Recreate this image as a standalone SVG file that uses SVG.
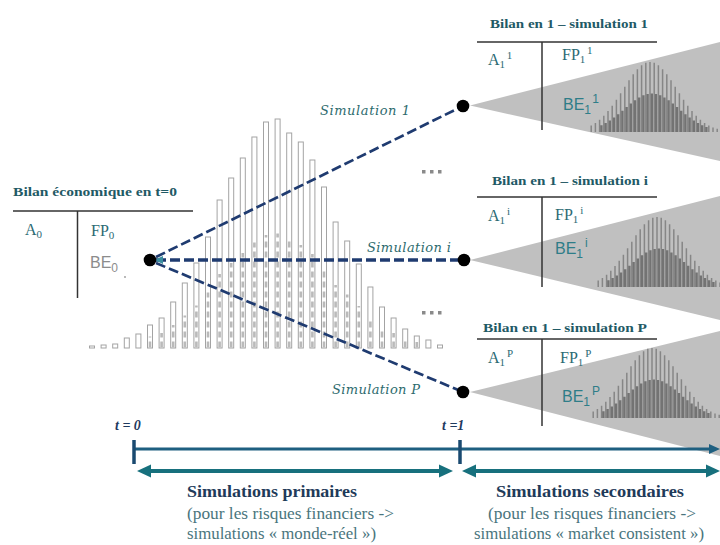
<svg xmlns="http://www.w3.org/2000/svg" xmlns:xlink="http://www.w3.org/1999/xlink" width="720" height="545" viewBox="0 0 720 545">
<style>
.ttl{font-family:"Liberation Serif","Times New Roman",serif;font-weight:bold;font-size:13.5px;fill:#1f5a66}
.bs{font-family:"Liberation Serif","Times New Roman",serif;font-size:16px;fill:#2b6a74}
.be{font-family:"Liberation Sans",Arial,sans-serif;font-size:16px;fill:#2e7d88}
.be0{font-family:"Liberation Sans",Arial,sans-serif;font-size:16px;fill:#8c8c8c}
.sim{font-family:"DejaVu Serif",serif;font-style:italic;font-size:13px;fill:#2d6b6e}
.dots{fill:#8a8a8a}
.tl{font-family:"Liberation Serif","Times New Roman",serif;font-style:italic;font-weight:bold;font-size:14px;fill:#1f3a5f}
.bh{font-family:"Liberation Serif","Times New Roman",serif;font-weight:bold;font-size:17px;fill:#1f3b5a}
.bt{font-family:"Liberation Serif","Times New Roman",serif;font-size:17px;fill:#4a757d}
.rule{stroke:#333;stroke-width:1.5;fill:none}
.tri{fill:#c0c0c0}
.bar{fill:#fff;stroke:#a3a3a3;stroke-width:1}
.inner{stroke:#bababa;stroke-width:2.6;stroke-dasharray:6 4;fill:none}
.dash{stroke:#1f3b70;stroke-width:2.7;stroke-dasharray:10 4;fill:none}
.dot{fill:#000}
.hthin{stroke:#868686;stroke-width:1.5;fill:none}
.hthick{stroke:#737373;stroke-width:2.4;fill:none}
</style>
<defs>
<g id="hist">
<path class="hthin" d="M-58.8 0v-6.5M-54.6 0v-9M-50.4 0v-12.3M-46.2 0v-16.2M-42 0v-20.9M-37.8 0v-26.3M-33.6 0v-32.3M-29.4 0v-38.7M-25.2 0v-45.3M-21 0v-51.7M-16.8 0v-57.7M-12.6 0v-62.8M-8.4 0v-66.7M-4.2 0v-69.2M0 0v-70M4.2 0v-69.2M8.4 0v-66.7M12.6 0v-62.8M16.8 0v-57.7M21 0v-51.7M25.2 0v-45.3M29.4 0v-38.7M33.6 0v-32.3M37.8 0v-26.3M42 0v-20.9M46.2 0v-16.2M50.4 0v-12.3M54.6 0v-9M58.8 0v-6.5M63 0v-4.6M67.2 0v-3.2"/>
<path class="hthick" d="M-48.6 0v-6.8M-44.4 0v-8.9M-40.2 0v-11.5M-36 0v-14.5M-31.8 0v-17.8M-27.6 0v-21.3M-23.4 0v-24.9M-19.2 0v-28.4M-15 0v-31.7M-10.8 0v-34.5M-6.6 0v-36.7M-2.4 0v-38.1M1.8 0v-38.5M6 0v-38.1M10.2 0v-36.7M14.4 0v-34.5M18.6 0v-31.7M22.8 0v-28.4M27 0v-24.9M31.2 0v-21.3M35.4 0v-17.8M39.6 0v-14.5M43.8 0v-11.5M48 0v-8.9M52.2 0v-6.8M56.4 0v-5"/>
</g>
</defs>
<rect width="720" height="545" fill="#fff"/>

<g id="primary-histogram">
<rect class="bar" x="89.5" y="346" width="5" height="2"/>
<rect class="bar" x="101.1" y="345" width="5" height="3"/>
<rect class="bar" x="112.7" y="344" width="5" height="4"/>
<rect class="bar" x="124.3" y="338" width="5" height="10"/>
<rect class="bar" x="135.9" y="334" width="5" height="14"/>
<rect class="bar" x="147.5" y="325" width="5" height="23"/>
<rect class="bar" x="159.1" y="318" width="5" height="30"/>
<rect class="bar" x="170.7" y="302" width="5" height="46"/>
<rect class="bar" x="182.3" y="283" width="5" height="65"/>
<rect class="bar" x="193.9" y="263" width="5" height="85"/>
<rect class="bar" x="205.5" y="237" width="5" height="111"/>
<rect class="bar" x="217.1" y="200" width="5" height="148"/>
<rect class="bar" x="228.7" y="178" width="5" height="170"/>
<rect class="bar" x="240.3" y="158" width="5" height="190"/>
<rect class="bar" x="251.9" y="137" width="5" height="211"/>
<rect class="bar" x="263.5" y="122" width="5" height="226"/>
<rect class="bar" x="275.1" y="119" width="5" height="229"/>
<rect class="bar" x="286.7" y="133" width="5" height="215"/>
<rect class="bar" x="298.3" y="142" width="5" height="206"/>
<rect class="bar" x="309.9" y="160" width="5" height="188"/>
<rect class="bar" x="321.5" y="187" width="5" height="161"/>
<rect class="bar" x="333.1" y="222" width="5" height="126"/>
<rect class="bar" x="344.7" y="241" width="5" height="107"/>
<rect class="bar" x="356.3" y="264" width="5" height="84"/>
<rect class="bar" x="367.9" y="287" width="5" height="61"/>
<rect class="bar" x="379.5" y="307" width="5" height="41"/>
<rect class="bar" x="391.1" y="318" width="5" height="30"/>
<rect class="bar" x="402.7" y="329" width="5" height="19"/>
<rect class="bar" x="414.3" y="336" width="5" height="12"/>
<rect class="bar" x="425.9" y="340" width="5" height="8"/>
<rect class="bar" x="437.5" y="345" width="5" height="3"/>
<path class="inner" d="M150 347.5V336.5M161.6 347.5V333M173.2 347.5V325M184.8 347.5V315.5M196.4 347.5V305.5M208 347.5V292.5M219.6 347.5V274M231.2 347.5V263M242.8 347.5V253M254.4 347.5V242.5M266 347.5V235M277.6 347.5V233.5M289.2 347.5V240.5M300.8 347.5V245M312.4 347.5V254M324 347.5V267.5M335.6 347.5V285M347.2 347.5V294.5M358.8 347.5V306M370.4 347.5V317.5M382 347.5V327.5M393.6 347.5V333M405.2 347.5V338.5M416.8 347.5V342"/>
</g>

<g id="balance-t0">
<text class="ttl" x="13" y="196" textLength="164" lengthAdjust="spacingAndGlyphs">Bilan économique en t=0</text>
<line class="rule" x1="13" y1="211" x2="193" y2="211"/>
<line class="rule" x1="77.5" y1="211" x2="77.5" y2="298"/>
<text class="bs" x="25" y="235">A<tspan dy="3" font-size="11">0</tspan></text>
<text class="bs" x="91" y="236">FP<tspan dy="3" font-size="11">0</tspan></text>
<text class="be0" x="90" y="268">BE<tspan dy="4" font-size="12">0</tspan></text>
<circle cx="125" cy="277" r="0.9" fill="#999"/>
</g>

<g id="secondary-sim1">
<polygon class="tri" points="470,105.5 720,42 720,161"/>
<use xlink:href="#hist" href="#hist" transform="translate(650,132)"/>
<text class="ttl" x="490" y="28" textLength="158" lengthAdjust="spacingAndGlyphs">Bilan en 1 – simulation 1</text>
<line class="rule" x1="477" y1="42" x2="657" y2="42"/>
<line class="rule" x1="542" y1="42" x2="542" y2="130"/>
<text class="bs" x="488" y="65">A<tspan dy="3" font-size="11">1</tspan><tspan dx="2" dy="-9" font-size="11">1</tspan></text>
<text class="bs" x="562" y="60">FP<tspan dy="3" font-size="11">1</tspan><tspan dx="2" dy="-9" font-size="11">1</tspan></text>
<text class="be" x="563" y="110">BE<tspan dy="4" font-size="12">1</tspan><tspan dx="2" dy="-11" font-size="12">1</tspan></text>
</g>

<g id="secondary-simi">
<polygon class="tri" points="470,260 720,196 720,320"/>
<use xlink:href="#hist" href="#hist" transform="translate(657,287)"/>
<text class="ttl" x="492" y="185" textLength="156" lengthAdjust="spacingAndGlyphs">Bilan en 1 – simulation i</text>
<line class="rule" x1="477" y1="197" x2="657" y2="197"/>
<line class="rule" x1="542" y1="197" x2="542" y2="287"/>
<text class="bs" x="488" y="221">A<tspan dy="3" font-size="11">1</tspan><tspan dx="2" dy="-9" font-size="11">i</tspan></text>
<text class="bs" x="555" y="220">FP<tspan dy="3" font-size="11">1</tspan><tspan dx="2" dy="-9" font-size="11">i</tspan></text>
<text class="be" x="555" y="254">BE<tspan dy="4" font-size="12">1</tspan><tspan dx="2" dy="-11" font-size="12">i</tspan></text>
</g>

<g id="secondary-simP">
<polygon class="tri" points="470,392 720,331 720,456"/>
<use xlink:href="#hist" href="#hist" transform="translate(652,418)"/>
<text class="ttl" x="483" y="332" textLength="164" lengthAdjust="spacingAndGlyphs">Bilan en 1 – simulation P</text>
<line class="rule" x1="477" y1="339" x2="657" y2="339"/>
<line class="rule" x1="542" y1="339" x2="542" y2="426"/>
<text class="bs" x="488" y="363">A<tspan dy="3" font-size="11">1</tspan><tspan dx="2" dy="-9" font-size="11">P</tspan></text>
<text class="bs" x="560" y="363">FP<tspan dy="3" font-size="11">1</tspan><tspan dx="2" dy="-9" font-size="11">P</tspan></text>
<text class="be" x="562" y="402">BE<tspan dy="4" font-size="12">1</tspan><tspan dx="2" dy="-11" font-size="12">P</tspan></text>
</g>

<g id="connectors">
<line class="dash" x1="156" y1="257" x2="463" y2="106"/>
<line class="dash" x1="156" y1="260" x2="463" y2="260" style="stroke-width:3.4"/>
<line class="dash" x1="156" y1="263" x2="463" y2="392"/>
<polygon points="154,260 163,256 163,264" fill="#3b8ea0"/>
</g>

<g id="node-t0"><circle class="dot" cx="150" cy="260" r="6.3"/></g>
<g id="node-sim1"><circle class="dot" cx="463" cy="106" r="6.3"/></g>
<g id="node-simi"><circle class="dot" cx="464" cy="260" r="6.3"/></g>
<g id="node-simP"><circle class="dot" cx="463" cy="392" r="6.3"/></g>

<g id="labels">
<text class="sim" x="320" y="115" textLength="90">Simulation 1</text>
<text class="sim" x="367" y="252" textLength="84">Simulation i</text>
<text class="sim" x="332" y="394" textLength="88">Simulation P</text>
<g class="dots">
<rect x="422" y="170" width="3.5" height="3.5"/><rect x="430" y="170" width="3.5" height="3.5"/><rect x="438" y="170" width="3.5" height="3.5"/>
<rect x="422" y="311" width="3.5" height="3.5"/><rect x="430" y="311" width="3.5" height="3.5"/><rect x="438" y="311" width="3.5" height="3.5"/>
</g>
</g>

<g id="timeline">
<text class="tl" x="115" y="430">t = 0</text>
<text class="tl" x="442" y="430">t =1</text>
<line x1="134" y1="449" x2="711" y2="449" stroke="#1e5f80" stroke-width="3"/>
<polygon points="720,449 709,444 709,454" fill="#1e5f80"/>
<line x1="134" y1="440" x2="134" y2="464" stroke="#1a4a70" stroke-width="3.5"/>
<line x1="460" y1="440" x2="460" y2="464" stroke="#1a4a70" stroke-width="3.5"/>
<line x1="148" y1="471" x2="442" y2="471" stroke="#17707d" stroke-width="4"/>
<polygon points="137,471 151,464.5 151,477.5" fill="#17707d"/>
<polygon points="453,471 439,464.5 439,477.5" fill="#17707d"/>
<line x1="473" y1="471" x2="708" y2="471" stroke="#17707d" stroke-width="4"/>
<polygon points="462,471 476,464.5 476,477.5" fill="#17707d"/>
<polygon points="720,471 706,464.5 706,477.5" fill="#17707d"/>
</g>

<g id="captions">
<text class="bh" x="187" y="497" textLength="170" lengthAdjust="spacingAndGlyphs">Simulations primaires</text>
<text class="bt" x="187" y="519" textLength="207" lengthAdjust="spacingAndGlyphs">(pour les risques financiers -&gt;</text>
<text class="bt" x="187" y="539" textLength="189" lengthAdjust="spacingAndGlyphs">simulations « monde-réel »)</text>
<text class="bh" x="590" y="497" text-anchor="middle" textLength="188" lengthAdjust="spacingAndGlyphs">Simulations secondaires</text>
<text class="bt" x="592" y="519" text-anchor="middle" textLength="208" lengthAdjust="spacingAndGlyphs">(pour les risques financiers -&gt;</text>
<text class="bt" x="589" y="539" text-anchor="middle" textLength="230" lengthAdjust="spacingAndGlyphs">simulations « market consistent »)</text>
</g>
</svg>
